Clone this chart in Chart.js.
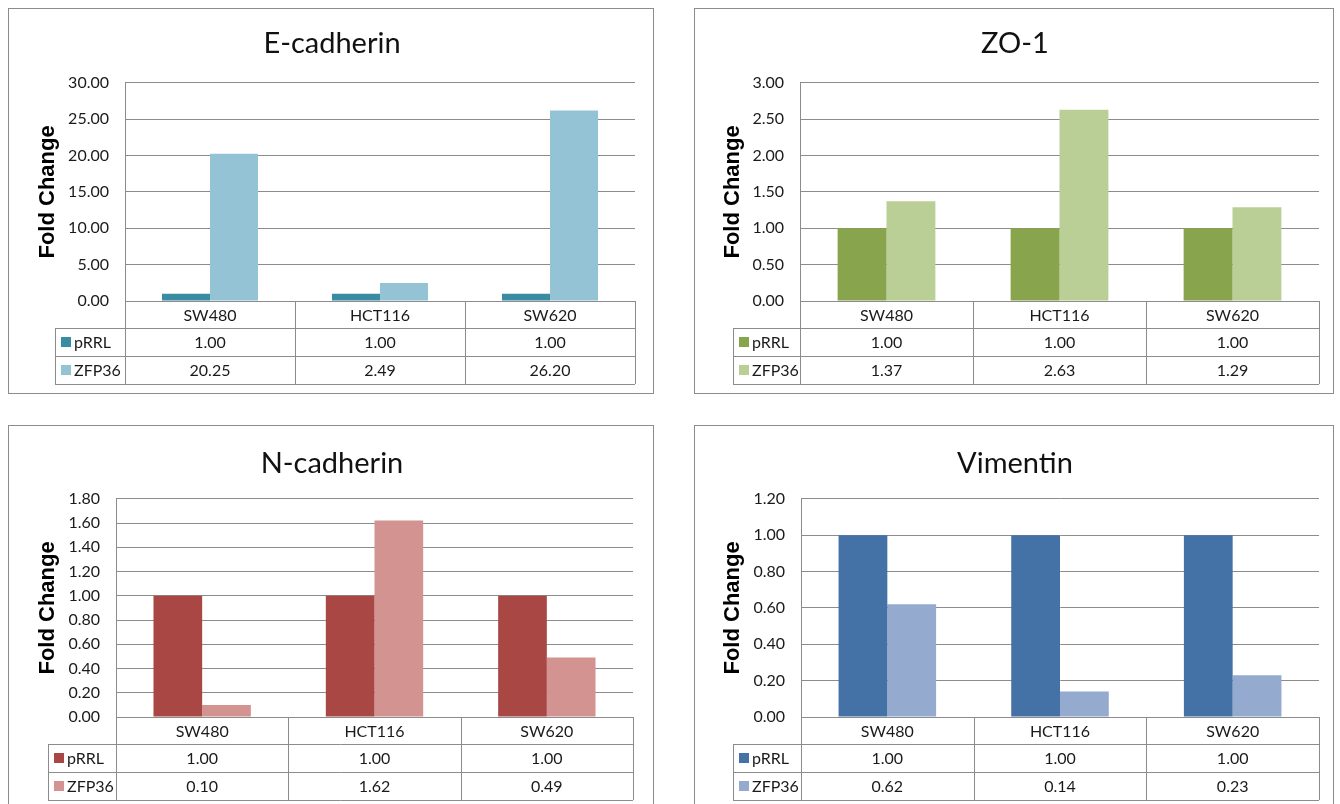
<!DOCTYPE html>
<html>
<head>
<meta charset="utf-8">
<script src="https://cdn.jsdelivr.net/npm/chart.js@4"></script>
<style>
  body { margin: 0; background: #fff; width: 1340px; height: 804px; overflow: hidden; position: relative; }
  .panel { position: absolute; border: 1px solid #8c8c8c; box-sizing: border-box; background: #fff; }
  .panel canvas { position: absolute; left: 0; top: 0; }
</style>
</head>
<body>
<div class="panel" id="p1" style="left:8px; top:8px; width:646px; height:386px;"><canvas id="c1" width="646" height="385"></canvas></div>
<div class="panel" id="p2" style="left:694px; top:8px; width:640px; height:386px;"><canvas id="c2" width="640" height="385"></canvas></div>
<div class="panel" id="p3" style="left:8px; top:425px; width:646px; height:386px;"><canvas id="c3" width="646" height="385"></canvas></div>
<div class="panel" id="p4" style="left:694px; top:425px; width:640px; height:386px;"><canvas id="c4" width="640" height="385"></canvas></div>
<script>
// categories and series
const cellLines = ['SW480', 'HCT116', 'SW620'];
const seriesNames = ['pRRL', 'ZFP36'];

// values
const eCadherinPRRL = [1.00, 1.00, 1.00];
const eCadherinZFP36 = [20.25, 2.49, 26.20];
const zo1PRRL = [1.00, 1.00, 1.00];
const zo1ZFP36 = [1.37, 2.63, 1.29];
const nCadherinPRRL = [1.00, 1.00, 1.00];
const nCadherinZFP36 = [0.10, 1.62, 0.49];
const vimentinPRRL = [1.00, 1.00, 1.00];
const vimentinZFP36 = [0.62, 0.14, 0.23];

// y axis ranges: min, max, step
const eCadherinAxis = [0, 30, 5];
const zo1Axis = [0, 3, 0.5];
const nCadherinAxis = [0, 1.8, 0.2];
const vimentinAxis = [0, 1.2, 0.2];

const FONT = 'Lato, "Open Sans", sans-serif';
const LINE = '#8c8c8c';
const TEXT = '#1a1a1a';

// draws the Excel style data table under the plot, aligned on the x scale
const dataTable = {
  id: 'dataTable',
  afterDraw(chart, args, opts) {
    const {ctx, chartArea} = chart;
    const x = chart.scales.x;
    const top = chartArea.bottom;
    const headH = 27, rowH = 28;
    const n = chart.data.labels.length;
    const half = (chartArea.right - chartArea.left) / n / 2;
    const edges = [];
    for (let i = 0; i < n; i++) edges.push(x.getPixelForTick(i) - half);
    edges.push(chartArea.right);
    const bottom = top + headH + rowH * chart.data.datasets.length;
    const L = opts.legendLeft;

    ctx.save();
    ctx.strokeStyle = LINE;
    ctx.lineWidth = 1;
    ctx.beginPath();
    // horizontal lines
    ctx.moveTo(chartArea.left, top + 0.5); ctx.lineTo(chartArea.right, top + 0.5);
    for (let r = 0; r <= chart.data.datasets.length; r++) {
      const y = Math.round(top + headH + rowH * r) + 0.5;
      ctx.moveTo(L, y); ctx.lineTo(chartArea.right, y);
    }
    // vertical lines
    edges.forEach(e => {
      const xx = Math.round(e) + 0.5;
      ctx.moveTo(xx, top); ctx.lineTo(xx, bottom);
    });
    ctx.moveTo(L + 0.5, top + headH); ctx.lineTo(L + 0.5, bottom);
    ctx.stroke();

    ctx.fillStyle = TEXT;
    ctx.font = '16px ' + FONT;
    ctx.textAlign = 'center';
    ctx.textBaseline = 'middle';
    chart.data.labels.forEach((lab, i) => {
      ctx.fillText(lab, (edges[i] + edges[i + 1]) / 2, top + headH / 2 + 1);
    });
    chart.data.datasets.forEach((ds, r) => {
      const cy = top + headH + rowH * r + rowH / 2 + 1;
      ds.data.forEach((v, i) => {
        ctx.fillStyle = TEXT;
        ctx.textAlign = 'center';
        ctx.fillText(v.toFixed(2), (edges[i] + edges[i + 1]) / 2, cy);
      });
      ctx.fillStyle = ds.backgroundColor;
      ctx.fillRect(L + 6, cy - 6, 10, 10);
      ctx.fillStyle = TEXT;
      ctx.textAlign = 'left';
      ctx.fillText(ds.label, L + 19, cy);
    });
    ctx.restore();
  }
};

function makeChart(id, title, prrl, zfp36, colors, axis, box) {
  new Chart(document.getElementById(id), {
    type: 'bar',
    data: {
      labels: cellLines,
      datasets: [
        { label: seriesNames[0], data: prrl, backgroundColor: colors[0] },
        { label: seriesNames[1], data: zfp36, backgroundColor: colors[1] }
      ]
    },
    options: {
      responsive: false,
      animation: false,
      datasets: { bar: { categoryPercentage: 0.565, barPercentage: 1.0 } },
      layout: { padding: { left: 0, right: 0, top: 0, bottom: box.bottom } },
      plugins: {
        legend: { display: false },
        tooltip: { enabled: false },
        title: {
          display: true,
          text: title,
          color: '#111',
          font: { family: FONT, size: 29, weight: 'normal' },
          padding: { top: box.titleTop, bottom: box.titleBottom }
        },
        dataTable: { legendLeft: box.legendLeft }
      },
      scales: {
        x: { display: false },
        y: {
          min: axis[0],
          max: axis[1],
          afterFit: s => { s.width = box.left; },
          border: { display: true, color: LINE, width: 1 },
          grid: { color: LINE, lineWidth: 1, drawTicks: false },
          ticks: {
            stepSize: axis[2],
            padding: 16,
            color: TEXT,
            font: { family: FONT, size: 16 },
            callback: v => v.toFixed(2)
          },
          title: {
            display: true,
            text: 'Fold Change',
            color: '#000',
            font: { family: '"Liberation Sans", Arial, sans-serif', size: 22, weight: 'bold' },
            padding: { top: box.yTitle, bottom: 0 }
          }
        },
        // empty right margin so the title stays centred on the whole panel
        gap: {
          type: 'linear',
          position: 'right',
          afterFit: s => { s.width = box.right; },
          grid: { display: false },
          border: { display: false },
          ticks: { display: false }
        }
      }
    },
    plugins: [dataTable]
  });
}

makeChart('c1', 'E-cadherin', eCadherinPRRL, eCadherinZFP36, ['#3a8ca3', '#93c3d5'], eCadherinAxis,
  { left: 116, right: 20, bottom: 93, titleTop: 17, titleBottom: 22, legendLeft: 46, yTitle: 26 });
makeChart('c2', 'ZO-1', zo1PRRL, zo1ZFP36, ['#88a44c', '#b9cf96'], zo1Axis,
  { left: 105, right: 16, bottom: 93, titleTop: 17, titleBottom: 22, legendLeft: 38, yTitle: 25 });
makeChart('c3', 'N-cadherin', nCadherinPRRL, nCadherinZFP36, ['#a94745', '#d39391'], nCadherinAxis,
  { left: 107, right: 22, bottom: 94, titleTop: 20, titleBottom: 18, legendLeft: 39, yTitle: 26 });
makeChart('c4', 'Vimentin', vimentinPRRL, vimentinZFP36, ['#4572a6', '#94aacf'], vimentinAxis,
  { left: 106, right: 16, bottom: 94, titleTop: 20, titleBottom: 18, legendLeft: 38, yTitle: 25 });
</script>
</body>
</html>
